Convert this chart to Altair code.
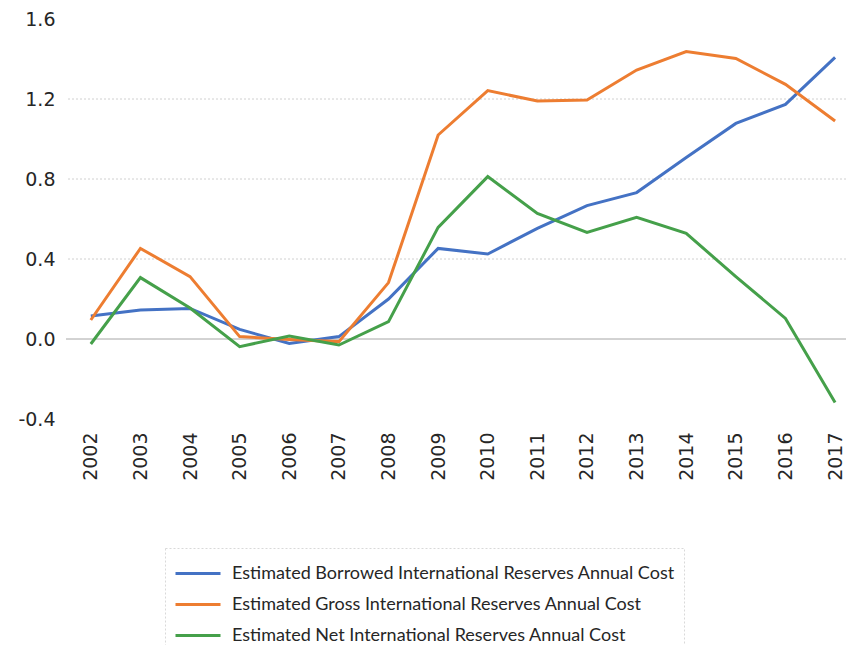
import altair as alt
import pandas as pd

years = list(range(2002, 2018))
borrowed = [0.115, 0.145, 0.153, 0.048, -0.022, 0.012, 0.200, 0.453, 0.425, 0.553,
            0.667, 0.732, 0.907, 1.078, 1.173, 1.408]
gross = [0.095, 0.453, 0.312, 0.012, -0.003, -0.013, 0.282, 1.020, 1.242, 1.190,
         1.195, 1.345, 1.437, 1.403, 1.273, 1.090]
net = [-0.025, 0.307, 0.155, -0.038, 0.015, -0.030, 0.087, 0.558, 0.812, 0.628,
       0.533, 0.608, 0.528, 0.312, 0.103, -0.318]

series_names = [
    "Estimated Borrowed International Reserves Annual Cost",
    "Estimated Gross International Reserves Annual Cost",
    "Estimated Net International Reserves Annual Cost",
]
colors = ["#4472C4", "#ED7D31", "#45A04A"]
y_ticks = [-0.4, 0.0, 0.4, 0.8, 1.2, 1.6]
grid_values = [0.4, 0.8, 1.2]
zero_value = [0.0]

rows = []
for name, vals in zip(series_names, [borrowed, gross, net]):
    for yr, v in zip(years, vals):
        rows.append({"year": yr, "value": v, "series": name})
df = pd.DataFrame(rows)

yscale = alt.Scale(domain=[-0.4, 1.6], nice=False, zero=False)
xscale = alt.Scale(domain=[2001.5, 2017.22], nice=False, zero=False)

grid = alt.Chart(pd.DataFrame({"value": grid_values})).mark_rule(
    color="#d0d0d0", strokeDash=[2, 2], strokeWidth=1
).encode(y=alt.Y("value:Q", scale=yscale))

zero = alt.Chart(pd.DataFrame({"value": zero_value})).mark_rule(
    color="#a6a6a6", strokeWidth=1
).encode(y=alt.Y("value:Q", scale=yscale))

lines = alt.Chart(df).mark_line(strokeWidth=3).encode(
    x=alt.X(
        "year:Q",
        scale=xscale,
        axis=alt.Axis(
            values=years, format="d", labelAngle=-90, grid=False, ticks=False,
            domain=False, labelPadding=13, labelFontSize=19, labelFont="DejaVu Sans",
            labelColor="#262626", title=None, labelOverlap=False, labelFlush=False,
        ),
    ),
    y=alt.Y(
        "value:Q",
        scale=yscale,
        axis=alt.Axis(
            values=y_ticks, format=".1f", grid=False, ticks=False, domain=False,
            labelPadding=11, labelFontSize=19, labelFont="DejaVu Sans",
            labelColor="#262626", title=None, labelOverlap=False, labelFlush=False,
            labelExpr="replace(datum.label, '\u2212', '-')",
        ),
    ),
    color=alt.Color(
        "series:N",
        scale=alt.Scale(domain=series_names, range=colors),
        sort=series_names,
        legend=alt.Legend(
            orient="none", legendX=99, legendY=529, title=None,
            symbolType="M-1,0H2", symbolSize=900, symbolStrokeWidth=3,
            labelFont="Lato", labelFontSize=18, labelColor="#262626",
            labelOffset=25, rowPadding=5, padding=9, strokeColor="#d9d9d9",
            direction="vertical", labelLimit=0,
        ),
    ),
)

chart = alt.layer(grid, zero, lines).properties(
    width=780,
    height=400,
    autosize=alt.AutoSizeParams(type="none"),
    padding={"left": 58, "top": 11, "right": 0, "bottom": 226},
    background="white",
).configure_view(stroke=None).configure_legend(strokeDash=[2, 2])

chart.save("out.html", embed_options={"renderer": "svg", "actions": False})
